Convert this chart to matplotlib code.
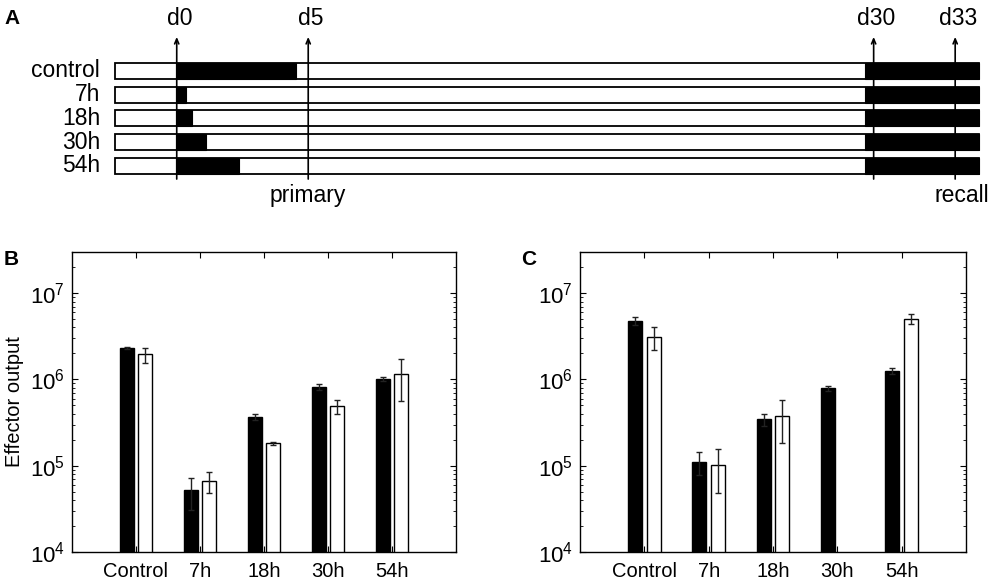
import matplotlib
matplotlib.use("Agg")
import matplotlib.pyplot as plt
import numpy as np
from matplotlib.ticker import LogLocator, NullFormatter

plt.rcParams["font.family"] = ["Liberation Sans", "DejaVu Sans"]
plt.rcParams["mathtext.fontset"] = "custom"
plt.rcParams["mathtext.rm"] = "Liberation Sans"
plt.rcParams["mathtext.it"] = "Liberation Sans"
plt.rcParams["mathtext.bf"] = "Liberation Sans:bold"

# ---- panel A: protocol schematic (schematic x units, d0 = 0) ----
row_labels = ["control", "7h", "18h", "30h", "54h"]
primary_end = [4.55, 0.34, 0.59, 1.11, 2.38]
timeline_start = -2.36
timeline_end = 30.5
recall_start = 26.17
marker_labels = ["d0", "d5", "d30", "d33"]
marker_pos = [0.0, 5.0, 26.5, 29.6]
phase_labels = ["primary", "recall"]
phase_pos = [5.0, 29.85]

# ---- panels B and C: effector output ----
groups = ["Control", "7h", "18h", "30h", "54h"]
b_black = [2.3e6, 5.2e4, 3.7e5, 8.2e5, 1.01e6]
b_black_err = [0.05e6, 2.1e4, 0.3e5, 0.7e5, 0.06e6]
b_white = [1.95e6, 6.6e4, 1.81e5, 4.9e5, 1.15e6]
b_white_err = [0.38e6, 1.8e4, 0.07e5, 0.9e5, 0.58e6]

c_black = [4.75e6, 1.11e5, 3.44e5, 7.9e5, 1.245e6]
c_black_err = [0.53e6, 0.32e5, 0.54e5, 0.5e5, 0.095e6]
c_white = [3.1e6, 1.02e5, 3.79e5, np.nan, 5.0e6]
c_white_err = [0.93e6, 0.54e5, 1.97e5, np.nan, 0.66e6]

fig = plt.figure(figsize=(9.92, 5.83), dpi=100)

# panel A
axA = fig.add_axes([0, 1 - 210 / 583, 1, 210 / 583])
axA.set_xlim(-6.72, 31.0)
axA.set_ylim(5.85, -2.97)
axA.axis("off")
bar_h = 0.67
for i, lab in enumerate(row_labels):
    axA.barh(i, timeline_end - timeline_start, left=timeline_start, height=bar_h,
             color="white", edgecolor="black", linewidth=1.3, zorder=1)
    axA.barh(i, primary_end[i], left=0, height=bar_h, color="black",
             edgecolor="black", linewidth=0.8, zorder=2)
    axA.barh(i, timeline_end - recall_start, left=recall_start, height=bar_h,
             color="black", edgecolor="black", linewidth=0.8, zorder=2)
    axA.text(timeline_start - 0.55, i, lab, ha="right", va="center", fontsize=16.5)
for lab, x in zip(marker_labels, marker_pos):
    axA.annotate("", xy=(x, -1.42), xytext=(x, 4.55),
                 arrowprops=dict(arrowstyle="->,head_length=0.35,head_width=0.15",
                                 color="black", lw=1.2, shrinkA=0, shrinkB=0),
                 zorder=3)
    axA.text(x + 0.1, -2.2, lab, ha="center", va="center", fontsize=16.5)
for lab, x in zip(phase_labels, phase_pos):
    axA.text(x, 5.25, lab, ha="center", va="center", fontsize=16.5)
fig.text(4 / 992, 1 - 18 / 583, "A", fontsize=15, fontweight="bold", va="center")


def effector_panel(ax, black, black_err, white, white_err):
    x = np.arange(1, len(groups) + 1)
    w = 0.22
    off = 0.145
    ax.bar(x - off, black, width=w, color="black", edgecolor="black", linewidth=1.0, zorder=2)
    ax.bar(x + off, white, width=w, color="white", edgecolor="black", linewidth=1.0, zorder=2)
    ax.errorbar(x - off, black, yerr=black_err, fmt="none", ecolor="#222222",
                elinewidth=1.0, capsize=2.5, capthick=1.0, zorder=3)
    ax.errorbar(x + off, white, yerr=white_err, fmt="none", ecolor="#222222",
                elinewidth=1.0, capsize=2.5, capthick=1.0, zorder=3)
    ax.set_yscale("log")
    ax.set_ylim(1e4, 3e7)
    ax.set_xlim(0, len(groups) + 1)
    ax.set_xticks(x)
    ax.set_xticklabels(groups, fontsize=14.5)
    ax.yaxis.set_major_locator(LogLocator(base=10, numticks=10))
    ax.yaxis.set_minor_locator(LogLocator(base=10, subs=np.arange(2, 10), numticks=20))
    ax.yaxis.set_minor_formatter(NullFormatter())
    ax.tick_params(axis="y", which="major", direction="in", length=4, width=0.8,
                   labelsize=16, left=True, right=True, pad=5)
    ax.tick_params(axis="y", which="minor", direction="in", length=2, width=0.6,
                   left=True, right=True)
    ax.tick_params(axis="x", which="both", direction="in", length=4, width=0.8,
                   top=True, bottom=True, pad=7)
    for s in ax.spines.values():
        s.set_linewidth(1.0)


axB = fig.add_axes([72 / 992, 31 / 583, 384 / 992, 300 / 583])
effector_panel(axB, b_black, b_black_err, b_white, b_white_err)
axB.set_ylabel("Effector output", fontsize=14.5, labelpad=4)
fig.text(4 / 992, 1 - 259 / 583, "B", fontsize=15, fontweight="bold", va="center")

axC = fig.add_axes([580 / 992, 31 / 583, 386 / 992, 300 / 583])
effector_panel(axC, c_black, c_black_err, c_white, c_white_err)
fig.text(521 / 992, 1 - 259 / 583, "C", fontsize=15, fontweight="bold", va="center")

fig.savefig("out.png", dpi=100)
